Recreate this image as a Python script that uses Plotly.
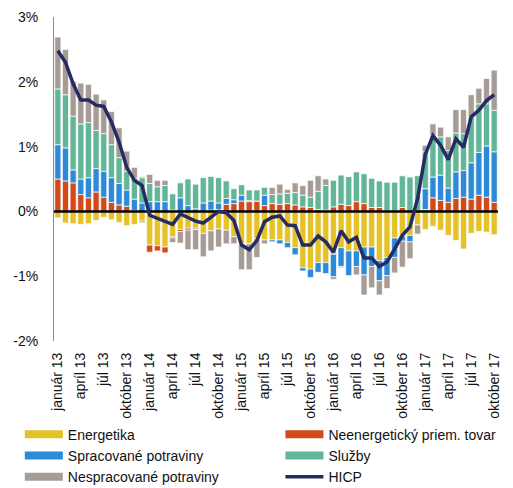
import plotly.graph_objects as go

months = ["január", "február", "marec", "apríl", "máj", "jún", "júl", "august",
          "september", "október", "november", "december"]
years = ["13", "14", "15", "16", "17"]
categories = [f"{m} {y}" for y in years for m in months][:58]

energetika = [-0.10, -0.18, -0.19, -0.20, -0.19, -0.14, -0.09, -0.13, -0.17, -0.22, -0.20, -0.15,
              -0.52, -0.53, -0.55, -0.39, -0.28, -0.26, -0.26, -0.34, -0.30, -0.27, -0.29, -0.39,
              -0.50, -0.50, -0.42, -0.44, -0.44, -0.44, -0.48, -0.56, -0.87, -0.89, -0.79, -0.79,
              -0.66, -0.56, -0.61, -0.61, -0.55, -0.55, -0.76, -0.71, -0.41, -0.38, -0.37, -0.21,
              -0.28, -0.23, -0.29, -0.37, -0.45, -0.58, -0.34, -0.31, -0.32, -0.36]
neenergeticky = [0.50, 0.47, 0.44, 0.26, 0.21, 0.30, 0.22, 0.14, 0.10, 0.08, 0.01, -0.02,
                 -0.11, -0.08, -0.09, -0.02, -0.03, -0.03, -0.02, 0.00, 0.02, 0.03, 0.11, 0.12,
                 0.16, 0.15, 0.16, 0.09, 0.12, 0.11, 0.12, 0.10, 0.07, 0.06, 0.03, 0.02,
                 0.07, 0.11, 0.09, 0.15, 0.12, 0.06, 0.06, 0.00, 0.00, 0.06, 0.00, 0.00,
                 0.03, 0.21, 0.17, 0.14, 0.20, 0.22, 0.19, 0.25, 0.22, 0.14]
spracovane = [0.53, 0.51, 0.20, 0.24, 0.31, 0.36, 0.40, 0.38, 0.33, 0.25, 0.18, 0.13,
              0.15, 0.15, 0.15, 0.02, 0.21, 0.09, 0.04, 0.13, 0.14, 0.10, 0.09, 0.06,
              0.09, 0.02, 0.00, 0.16, -0.03, -0.06, -0.08, -0.11, -0.05, -0.13, -0.15, -0.17,
              -0.35, -0.29, -0.38, -0.24, -0.43, -0.30, -0.31, -0.28, -0.30, -0.08, -0.10, 0.00,
              0.32, 0.32, 0.39, 0.22, 0.41, 0.41, 0.56, 0.66, 0.79, 0.78]
sluzby = [0.86, 0.82, 0.83, 0.85, 0.85, 0.59, 0.58, 0.51, 0.40, 0.29, 0.32, 0.39,
          0.28, 0.23, 0.25, 0.25, 0.23, 0.41, 0.38, 0.39, 0.38, 0.39, 0.27, 0.17,
          0.16, 0.16, 0.17, 0.12, 0.14, 0.16, 0.16, 0.19, 0.18, 0.16, 0.28, 0.38,
          0.41, 0.45, 0.45, 0.46, 0.46, 0.45, 0.41, 0.45, 0.45, 0.49, 0.53, 0.55,
          0.57, 0.64, 0.59, 0.58, 0.60, 0.57, 0.71, 0.75, 0.65, 0.64]
nespracovane = [0.80, 0.70, 0.54, 0.63, 0.59, 0.56, 0.52, 0.51, 0.46, 0.31, 0.17, 0.02,
                0.14, 0.10, 0.08, -0.07, -0.18, -0.30, -0.31, -0.36, -0.31, -0.28, -0.21, -0.11,
                -0.40, -0.40, -0.29, -0.06, 0.11, 0.15, 0.06, 0.15, 0.15, 0.26, 0.24, 0.10,
                -0.04, -0.02, 0.00, -0.13, -0.31, -0.33, -0.22, -0.20, -0.24, -0.40, -0.26, -0.14,
                0.10, 0.18, 0.15, 0.21, 0.36, 0.37, 0.34, 0.24, 0.39, 0.62]
hicp = [2.48, 2.30, 1.97, 1.72, 1.72, 1.64, 1.62, 1.38, 1.07, 0.68, 0.48, 0.40,
        -0.06, -0.11, -0.15, -0.20, -0.04, -0.09, -0.15, -0.18, -0.09, 0.00, -0.02, -0.14,
        -0.52, -0.59, -0.45, -0.16, -0.09, -0.07, -0.21, -0.22, -0.52, -0.52, -0.38, -0.47,
        -0.63, -0.30, -0.47, -0.40, -0.72, -0.72, -0.85, -0.78, -0.58, -0.37, -0.24, 0.20,
        0.88, 1.17, 1.02, 0.80, 1.12, 0.99, 1.46, 1.56, 1.71, 1.80]

tick_idx = list(range(0, 58, 3))
tick_text = [categories[i] for i in tick_idx]
y_ticks = [-2, -1, 0, 1, 2, 3]
y_text = ["-2%", "-1%", "0%", "1%", "2%", "3%"]

series = [
    ("Energetika", energetika, "#E6C229", "legend"),
    ("Neenergetický priem. tovar", neenergeticky, "#D2491A", "legend2"),
    ("Spracované potraviny", spracovane, "#2D8AD9", "legend"),
    ("Služby", sluzby, "#62B596", "legend2"),
    ("Nespracované potraviny", nespracovane, "#A79C95", "legend"),
]
hicp_color = "#272B63"

x = list(range(len(categories)))
fig = go.Figure()
for name, vals, col, lg in series:
    fig.add_trace(go.Bar(x=x, y=vals, name=name,
                         marker=dict(color=col, line=dict(color="white", width=0.7)),
                         showlegend=False))
# zero reference line above bars
fig.add_trace(go.Scatter(x=[-0.5, len(categories) - 0.5], y=[0, 0], mode="lines",
                         line=dict(color="black", width=2.5), showlegend=False, hoverinfo="skip"))
fig.add_trace(go.Scatter(x=x, y=hicp, mode="lines", name="HICP",
                         line=dict(color=hicp_color, width=3.5), showlegend=False))

# legend entries (wide swatches), two columns
for name, vals, col, lg in series:
    fig.add_trace(go.Scatter(x=[None], y=[None], mode="lines", name=name, legend=lg,
                             line=dict(color=col, width=8)))
fig.add_trace(go.Scatter(x=[None], y=[None], mode="lines", name="HICP", legend="legend2",
                         line=dict(color=hicp_color, width=3.5)))

leg_common = dict(orientation="v", yanchor="top", y=-0.24, xanchor="left",
                  tracegroupgap=0, itemwidth=38, font=dict(size=14, color="#111"),
                  bgcolor="rgba(0,0,0,0)")

fig.update_layout(
    width=513, height=488,
    margin=dict(l=54, r=15, t=17, b=147, autoexpand=False),
    barmode="relative", bargap=0.2,
    plot_bgcolor="white", paper_bgcolor="white",
    font=dict(family="Liberation Sans, Arial, sans-serif", size=14, color="#111"),
    legend=dict(x=-0.077, **leg_common),
    legend2=dict(x=0.51, **leg_common),
    xaxis=dict(range=[-0.5, len(categories) - 0.5], tickmode="array", tickvals=tick_idx,
               ticktext=tick_text, tickangle=-90, showgrid=False, zeroline=False,
               ticks="outside", ticklen=5, tickcolor="rgba(0,0,0,0)", showline=False,
               tickfont=dict(size=14), automargin=False),
    yaxis=dict(range=[-2, 3], tickmode="array", tickvals=y_ticks, ticktext=y_text,
               showgrid=False, zeroline=False, showline=True, linecolor="#8c8c8c", linewidth=1,
               ticks="outside", ticklen=12, tickcolor="rgba(0,0,0,0)", tickfont=dict(size=14),
               automargin=False),
)

fig.write_html("out.html")
